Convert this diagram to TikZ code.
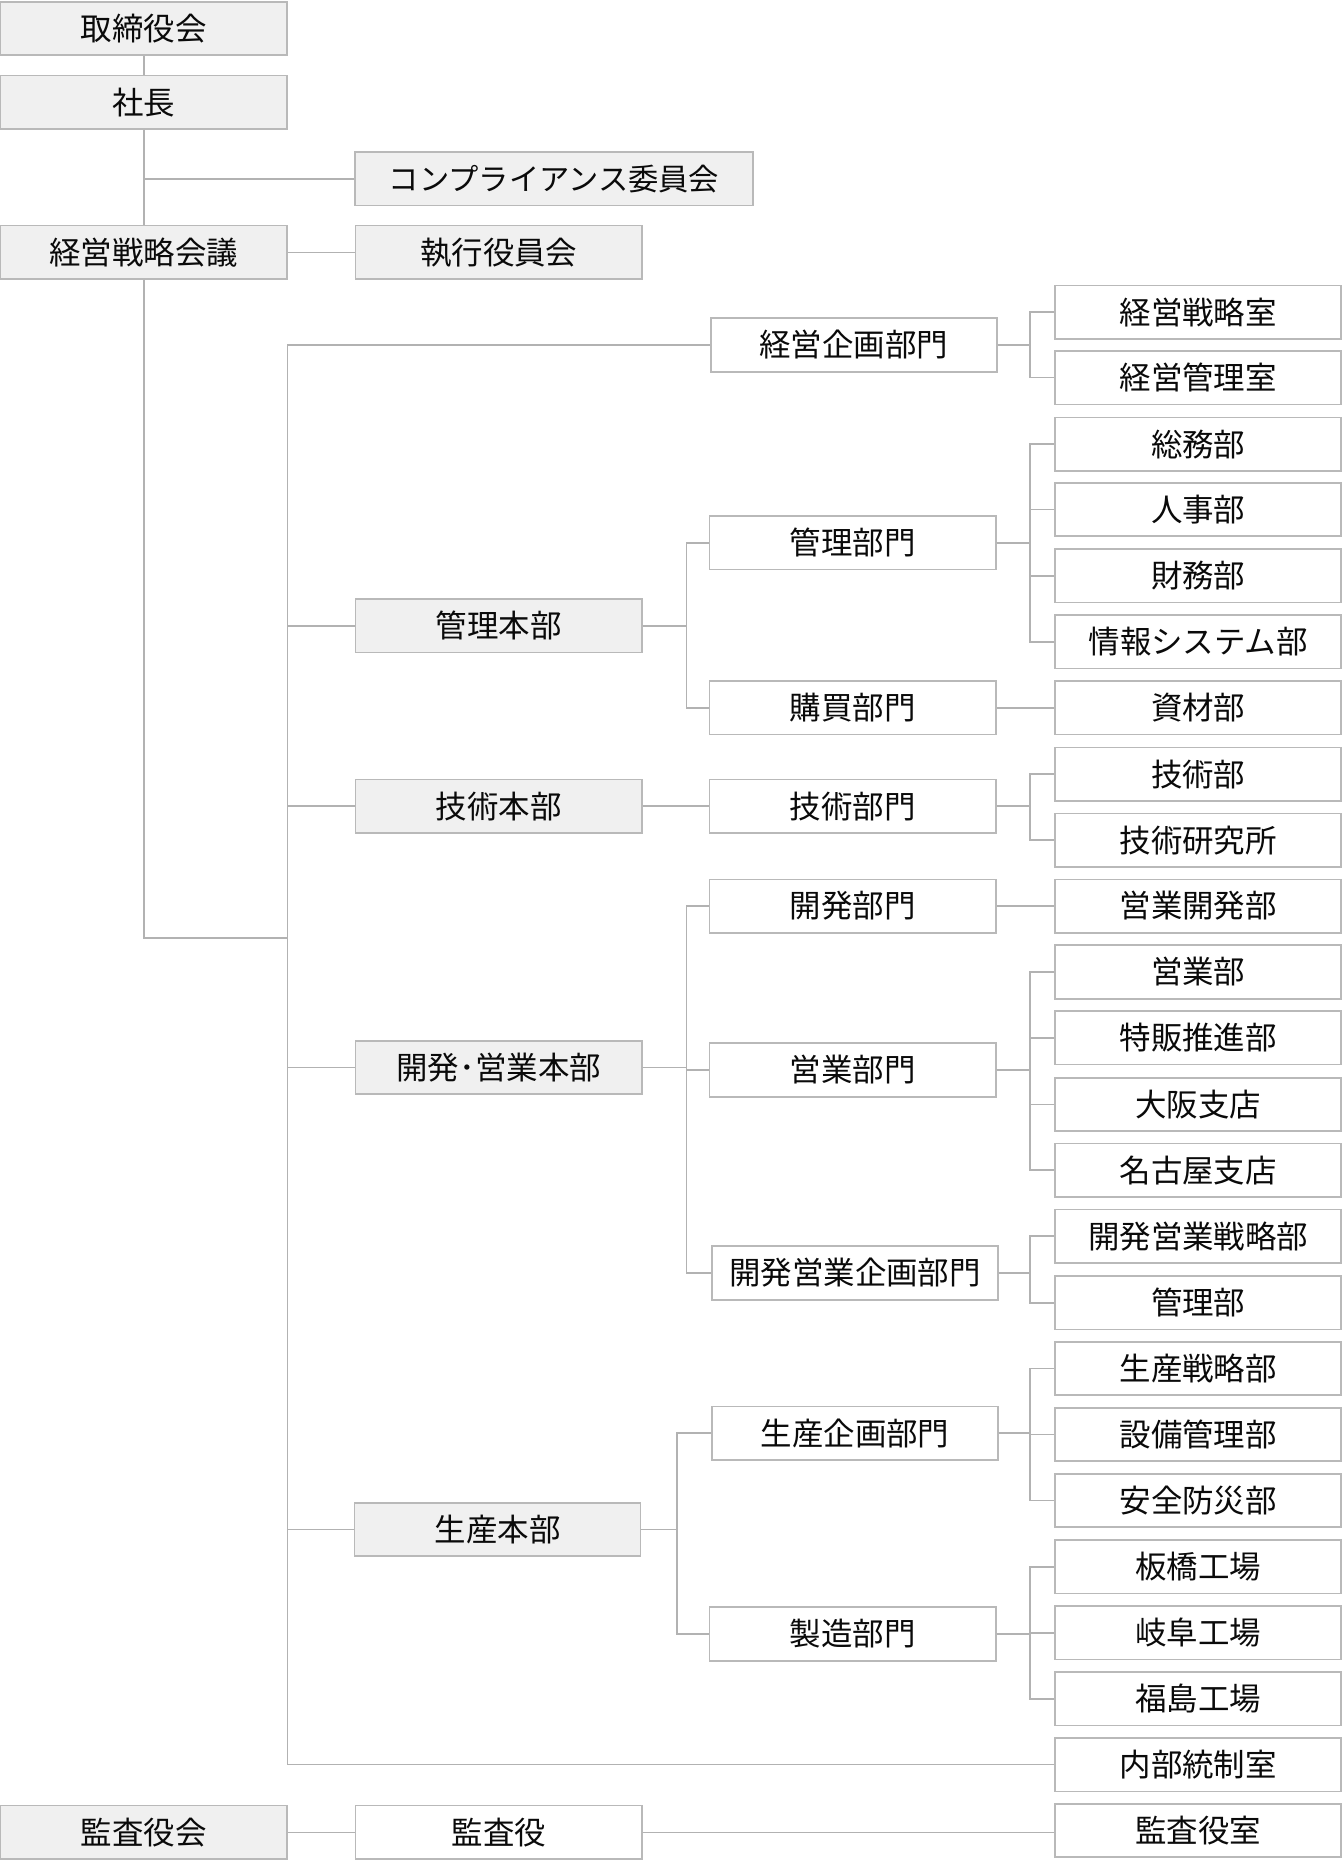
\documentclass[tikz,border=0pt]{standalone}
\usepackage{fontspec}
\setmainfont{Noto Sans CJK JP}
\definecolor{boxline}{RGB}{185,185,185}
\definecolor{boxfill}{RGB}{240,240,240}
\definecolor{conn}{RGB}{178,178,178}
\definecolor{txt}{RGB}{10,10,10}
\begin{document}
\begin{tikzpicture}[x=1pt,y=-1pt,
  orgbox/.style={draw=boxline,line width=1.4pt,fill=white,minimum width=241pt,minimum height=45pt,inner sep=0pt,text=txt,font=\fontsize{26.5pt}{30pt}\selectfont},
  greybox/.style={orgbox,fill=boxfill},
  link/.style={draw=conn,line width=1.4pt}]
\useasboundingbox (0,0) rectangle (1131,1568);
% column A
\node[greybox] (torishimari) at (121,24) {取締役会};
\node[greybox] (shacho) at (121,86) {社長};
\node[greybox,minimum width=335pt,font=\fontsize{25.5pt}{30pt}\selectfont] (compliance) at (466.5,150.5) {コンプライアンス委員会};
\node[greybox] (keiei) at (121,212.5) {経営戦略会議};
\node[greybox] (shikko) at (420,212.5) {執行役員会};
\node[greybox] (kansayakukai) at (121,1543) {監査役会};
% column B
\node[greybox] (kanrihb) at (420,527) {管理本部};
\node[greybox] (gijutsuhb) at (420,679) {技術本部};
\node[greybox] (kaihatsuhb) at (420,899) {開発･営業本部};
\node[greybox] (seisanhb) at (419,1288) {生産本部};
\node[orgbox] (kansayaku) at (420,1543) {監査役};
% column C
\node[orgbox] (keieikikaku) at (719,290.5) {経営企画部門};
\node[orgbox] (kanribm) at (718,457) {管理部門};
\node[orgbox] (kobai) at (718,596) {購買部門};
\node[orgbox] (gijutsubm) at (718,679) {技術部門};
\node[orgbox] (kaihatsubm) at (718,763) {開発部門};
\node[orgbox] (eigyobm) at (718,901) {営業部門};
\node[orgbox] (kekikaku) at (720,1072) {開発営業企画部門};
\node[orgbox] (seisankikaku) at (720,1207) {生産企画部門};
\node[orgbox] (seizo) at (718,1376) {製造部門};
% column D
\node[orgbox] (d0) at (1009,263) {経営戦略室};
\node[orgbox] (d1) at (1009,318) {経営管理室};
\node[orgbox] (d2) at (1009,374) {総務部};
\node[orgbox] (d3) at (1009,429) {人事部};
\node[orgbox] (d4) at (1009,485) {財務部};
\node[orgbox] (d5) at (1009,540.5) {情報システム部};
\node[orgbox] (d6) at (1009,596) {資材部};
\node[orgbox] (d7) at (1009,652) {技術部};
\node[orgbox] (d8) at (1009,707.5) {技術研究所};
\node[orgbox] (d9) at (1009,763) {営業開発部};
\node[orgbox] (d10) at (1009,818.5) {営業部};
\node[orgbox] (d11) at (1009,874) {特販推進部};
\node[orgbox] (d12) at (1009,930) {大阪支店};
\node[orgbox] (d13) at (1009,985.5) {名古屋支店};
\node[orgbox] (d14) at (1009,1041) {開発営業戦略部};
\node[orgbox] (d15) at (1009,1097) {管理部};
\node[orgbox] (d16) at (1009,1152.5) {生産戦略部};
\node[orgbox] (d17) at (1009,1208) {設備管理部};
\node[orgbox] (d18) at (1009,1263.5) {安全防災部};
\node[orgbox] (d19) at (1009,1319.5) {板橋工場};
\node[orgbox] (d20) at (1009,1375) {岐阜工場};
\node[orgbox] (d21) at (1009,1430.5) {福島工場};
\node[orgbox] (d22) at (1009,1486) {内部統制室};
\node[orgbox] (d23) at (1009,1541.5) {監査役室};
% connectors, top
\path[link] (torishimari) -- (shacho);
\path[link] (shacho) -- (keiei);
\path[link] (compliance.west) -- (compliance.west -| shacho.south);
\path[link] (keiei) -- (shikko);
\coordinate (tj) at (242,790);
\path[link] (keiei.south) |- (tj);
\foreach \n in {keieikikaku,kanrihb,gijutsuhb,kaihatsuhb,seisanhb,d22}
  \path[link] (tj) |- (\n.west);
% honbu -> bumon
\foreach \n in {kanribm,kobai}
  \path[link] (kanrihb.east) -- ++(37,0) |- (\n.west);
\path[link] (gijutsuhb) -- (gijutsubm);
\foreach \n in {kaihatsubm,eigyobm,kekikaku}
  \path[link] (kaihatsuhb.east) -- ++(37,0) |- (\n.west);
\foreach \n in {seisankikaku,seizo}
  \path[link] (seisanhb.east) -- ++(30,0) |- (\n.west);
% bumon -> bu
\foreach \n in {d0,d1}
  \path[link] (keieikikaku.east) -- ++(27,0) |- (\n.west);
\foreach \n in {d2,d3,d4,d5}
  \path[link] (kanribm.east) -- ++(28,0) |- (\n.west);
\path[link] (kobai) -- (d6);
\foreach \n in {d7,d8}
  \path[link] (gijutsubm.east) -- ++(28,0) |- (\n.west);
\path[link] (kaihatsubm) -- (d9);
\foreach \n in {d10,d11,d12,d13}
  \path[link] (eigyobm.east) -- ++(28,0) |- (\n.west);
\foreach \n in {d14,d15}
  \path[link] (kekikaku.east) -- ++(26,0) |- (\n.west);
\foreach \n in {d16,d17,d18}
  \path[link] (seisankikaku.east) -- ++(26,0) |- (\n.west);
\foreach \n in {d19,d20,d21}
  \path[link] (seizo.east) -- ++(28,0) |- (\n.west);
% bottom
\path[link] (kansayakukai) -- (kansayaku);
\path[link] (kansayaku.east) -- (kansayaku.east -| d23.west);
\end{tikzpicture}
\end{document}
